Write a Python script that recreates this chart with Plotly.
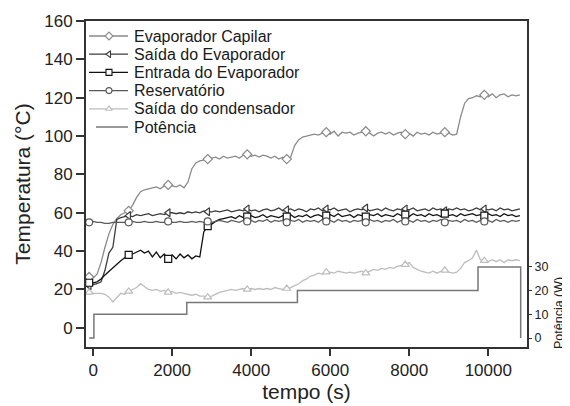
import plotly.graph_objects as go

tempo = [-100, 0, 100, 200, 300, 400, 500, 600, 700, 800,
         900, 1000, 1100, 1200, 1300, 1400, 1500, 1600, 1700, 1800,
         1900, 2000, 2100, 2200, 2300, 2400, 2500, 2600, 2700, 2800,
         2900, 3000, 3100, 3200, 3300, 3400, 3500, 3600, 3700, 3800,
         3900, 4000, 4100, 4200, 4300, 4400, 4500, 4600, 4700, 4800,
         4900, 5000, 5100, 5200, 5300, 5400, 5500, 5600, 5700, 5800,
         5900, 6000, 6100, 6200, 6300, 6400, 6500, 6600, 6700, 6800,
         6900, 7000, 7100, 7200, 7300, 7400, 7500, 7600, 7700, 7800,
         7900, 8000, 8100, 8200, 8300, 8400, 8500, 8600, 8700, 8800,
         8900, 9000, 9100, 9200, 9300, 9400, 9500, 9600, 9700, 9800,
         9900, 10000, 10100, 10200, 10300, 10400, 10500, 10600, 10700, 10800]

evap_capilar = [26.5, 26, 28, 34, 42, 49, 54, 57, 59, 60,
                61, 64, 68, 71, 72, 72.5, 73, 73.5, 72.5, 74,
                74.5, 74, 73.5, 74.5, 73, 76, 83, 86, 87, 87.5,
                88, 88.5, 89, 88, 89.5, 88.5, 89, 89.5, 88.5, 90,
                90.5, 89.5, 90, 89, 90, 89.5, 88.5, 89.5, 88, 89,
                88, 89, 95, 98, 99.5, 100, 100.5, 101, 100.5, 101.5,
                102, 101, 102.5, 100, 102, 101.5, 102, 100.5, 101.5, 102,
                102.5, 101.5, 100, 101.5, 102, 101, 102, 100.5, 101.5, 102,
                101, 101.5, 100, 102, 101, 101.5, 100.5, 102, 101, 101.5,
                102, 101.5, 100.5, 101, 110, 117, 119.5, 120, 121, 120.5,
                121.5, 120.5, 122, 120, 121.5, 122, 120.5, 121.5, 121, 121.5]

saida_evap = [22, 22.5, 23, 24, 30, 39, 42, 56.5, 57.5, 58,
              58.5, 58, 59, 58.5, 59, 59.5, 58.5, 59, 59.5, 59,
              60, 60, 59.5, 60, 59.5, 60.5, 60, 60.5, 60, 61,
              60.5, 60.5, 61, 60.5, 61, 61.5, 60.5, 61, 61.5, 61,
              62, 61, 61.5, 60.5, 61.5, 62, 61, 61.5, 62.5, 61,
              61.5, 62, 61, 62, 61.5, 60.5, 62, 61.5, 62.5, 61,
              62, 61.5, 62.5, 61, 61.5, 62, 60.5, 61.5, 62, 61.5,
              62.5, 61, 61.5, 62, 61, 62.5, 61.5, 61, 62, 61.5,
              62, 61.5, 62.5, 61, 61.5, 62, 61, 62.5, 61.5, 62,
              61, 62, 61.5, 62.5, 61.5, 62, 61, 61.5, 62.5, 61.5,
              62, 61.5, 62, 61, 62.5, 61.5, 62, 61, 61.5, 62]

entrada_evap = [23.5, 23.5, 24, 25.5, 27.5, 29.5, 31.5, 33.5, 35, 36.5,
                38, 38.5, 39.5, 40.5, 39, 40, 37, 39.5, 36.5, 38.5,
                36, 38, 36, 38.5, 36.5, 38, 36, 37.5, 37, 50,
                53, 54, 55.5, 56.5, 57, 57.5, 58, 57, 58.5, 57.5,
                58, 58.5, 57.5, 58, 59, 57.5, 58.5, 58, 57.5, 58.5,
                58, 59, 57.5, 58.5, 58, 59, 57.5, 58.5, 59, 58,
                58.5, 59, 58, 59.5, 58, 58.5, 59, 57.5, 59, 58.5,
                58, 59, 58.5, 59.5, 58, 59, 58.5, 58, 59.5, 58.5,
                59, 58, 59.5, 58.5, 59, 58, 59.5, 58.5, 59, 58,
                59.5, 58.5, 59, 58, 59.5, 58.5, 59, 59.5, 58.5, 59,
                58.5, 59.5, 58.5, 59, 58, 59.5, 58.5, 59, 58, 58.5]

reservatorio = [55, 55.5, 55, 55, 54.5, 54.5, 55, 55, 55, 55,
                55, 55.5, 55, 55, 55.5, 55, 55, 55.5, 55, 55,
                55.5, 55, 55, 55.5, 55, 55, 55.5, 55, 55.5, 55,
                55.5, 55, 55.5, 56, 55.5, 55, 56, 55.5, 55, 56,
                55.5, 56, 55, 56, 55.5, 56.5, 55, 56, 55.5, 56,
                55, 56, 55.5, 56.5, 55, 56, 55.5, 56, 55, 56.5,
                55.5, 56, 55, 56.5, 55.5, 56, 55, 56, 55.5, 56,
                55, 56.5, 55.5, 56, 55, 56, 55.5, 56.5, 55, 56,
                55.5, 56, 55, 56.5, 55.5, 56, 55, 56, 55.5, 56.5,
                55, 56, 55.5, 56, 55, 56.5, 55.5, 56, 55, 56,
                55.5, 56, 55, 56.5, 55.5, 56, 55, 56, 55.5, 56]

saida_cond = [18.5, 18, 18, 18, 17.5, 16, 13.5, 16, 18, 17.5,
              19, 20, 21, 23, 21.5, 20, 19.5, 20, 19, 19.5,
              18.5, 19, 18, 18.5, 18, 17.5, 17, 17.5, 16.5, 16.5,
              16, 16.5, 17.5, 18.5, 19, 19.5, 20, 19.5, 20, 20.5,
              20, 20.5, 20, 20.5, 20, 20.5, 20, 21, 20.5, 20,
              20.5, 21, 22, 23, 24.5, 25.5, 27, 27.5, 28.5, 28,
              29, 29, 28.5, 29.5, 29, 28.5, 29, 28.5, 29, 29.5,
              28.5, 29.5, 30.5, 30, 31, 30.5, 31.5, 31, 32, 32.5,
              33, 34, 31.5, 30.5, 29.5, 29, 28.5, 29.5, 28.5, 29.5,
              30, 29, 28.5, 29, 31, 34, 35, 36.5, 40.5, 35.5,
              35, 34.5, 35.5, 34.5, 35.5, 34, 35.5, 35, 35.5, 35]

marker_times = [-100, 900, 1900, 2900, 3900, 4900, 5900, 6900, 7900, 8900, 9900]

potencia_t = [-100, 20, 2370, 5170, 9740, 10820]
potencia_w = [0, 10, 15, 20, 30, 0]

x_ticks = [0, 2000, 4000, 6000, 8000, 10000]
y_ticks = [0, 20, 40, 60, 80, 100, 120, 140, 160]
y2_ticks = [0, 10, 20, 30]

series = [
    ("Evaporador Capilar", evap_capilar, "#8a8a8a", "diamond"),
    ("Saída do Evaporador", saida_evap, "#3c3c3c", "triangle-left"),
    ("Entrada do Evaporador", entrada_evap, "#111111", "square"),
    ("Reservatório", reservatorio, "#5a5a5a", "circle"),
    ("Saída do condensador", saida_cond, "#bdbdbd", "triangle-up"),
]
pot_name = "Potência"
pot_col = "#777777"

# page geometry (browser body has an 8px default margin)
PAGE_W, PAGE_H = 570, 406
BODY = 8
px_left, px_right = 86, 527      # plot area, page pixels
px_top, px_bottom = 21, 347
W, H = PAGE_W - BODY, PAGE_H - BODY
L, T = px_left - BODY, px_top - BODY
R, B = PAGE_W - px_right, PAGE_H - px_bottom

fig = go.Figure()
idx = [tempo.index(t) for t in marker_times]
for name, vals, col, sym in series:
    fig.add_trace(go.Scatter(x=tempo, y=vals, mode="lines", name=name,
                             line=dict(color=col, width=1.3), hoverinfo="skip"))
    fig.add_trace(go.Scatter(x=[tempo[i] for i in idx], y=[vals[i] for i in idx],
                             mode="markers", name=name,
                             marker=dict(symbol=sym, size=7, color="white",
                                         line=dict(color=col, width=1.2))))

fig.add_trace(go.Scatter(x=potencia_t, y=potencia_w, mode="lines", name=pot_name,
                         yaxis="y2", line=dict(color=pot_col, width=1.5, shape="hv")))

# manual legend (drawn on a hidden overlay whose units are page pixels)
leg_first_y = 36
leg_gap = 18.2
leg_line_x0, leg_line_x1 = 89, 128
leg_mark_x = 109
leg_text_x = 132
annotations = []
entries = [(n, c, s) for n, _, c, s in series] + [(pot_name, pot_col, None)]
for k, (name, col, sym) in enumerate(entries):
    yy = leg_first_y + k * leg_gap
    x0 = leg_line_x0 if sym else 96
    fig.add_trace(go.Scatter(x=[x0, leg_line_x1], y=[yy, yy], mode="lines",
                             xaxis="x2", yaxis="y3", hoverinfo="skip",
                             line=dict(color=col, width=1.3 if sym else 1.5)))
    if sym:
        fig.add_trace(go.Scatter(x=[leg_mark_x], y=[yy], mode="markers",
                                 xaxis="x2", yaxis="y3", hoverinfo="skip",
                                 marker=dict(symbol=sym, size=6, color="white",
                                             line=dict(color=col, width=1.1))))
    annotations.append(dict(text=name, x=leg_text_x, y=yy, xref="x2", yref="y3",
                            xanchor="left", yanchor="middle", showarrow=False,
                            font=dict(size=16, color="#1a1a1a")))

annotations.append(dict(text="Potência (W)", textangle=-90, xref="paper", yref="paper",
                        x=(568 - px_left) / (px_right - px_left),
                        y=(px_bottom - 313) / (px_bottom - px_top),
                        xanchor="right", yanchor="middle",
                        showarrow=False, font=dict(size=12.5, color="#222222")))

axis_col = "#333333"
fig.update_layout(
    width=W, height=H,
    margin=dict(l=L, r=R, t=T, b=B, autoexpand=False),
    showlegend=False,
    paper_bgcolor="white", plot_bgcolor="white",
    font=dict(family="Liberation Sans, Arial, sans-serif", color="#222222"),
    xaxis=dict(range=[-180, 10980], tickvals=x_ticks, ticktext=[str(v) for v in x_ticks],
               ticks="outside", ticklen=7, tickwidth=1.5, tickcolor=axis_col,
               showline=True, linewidth=2, linecolor=axis_col, mirror=True,
               showgrid=False, zeroline=False, tickfont=dict(size=17), automargin=False,
               title=dict(text="tempo (s)", font=dict(size=21), standoff=4)),
    yaxis=dict(range=[-10, 160], tickvals=y_ticks, ticktext=[str(v) for v in y_ticks],
               ticks="outside", ticklen=8, tickwidth=1.5, tickcolor=axis_col,
               showline=True, linewidth=2, linecolor=axis_col, mirror=True,
               showgrid=False, zeroline=False, tickfont=dict(size=17), automargin=False,
               title=dict(text="Temperatura (°C)", font=dict(size=21), standoff=8)),
    yaxis2=dict(overlaying="y", side="right", range=[-3.8, 133.8], tickvals=y2_ticks,
                ticktext=[str(v) for v in y2_ticks], ticks="outside", ticklen=4,
                tickwidth=1.2, tickcolor=axis_col, showgrid=False, zeroline=False,
                showline=False, tickfont=dict(size=12.5), automargin=False),
    xaxis2=dict(overlaying="x", anchor="y3", range=[px_left, px_right], visible=False,
                fixedrange=True, automargin=False),
    yaxis3=dict(overlaying="y", anchor="x2", range=[px_bottom, px_top], visible=False,
                fixedrange=True, automargin=False),
    annotations=annotations,
)

fig.write_html("out.html")
